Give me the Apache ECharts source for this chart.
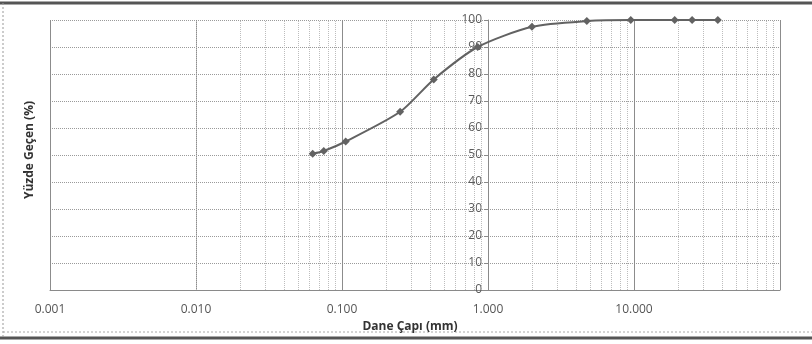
<!DOCTYPE html>
<html>
<head>
<meta charset="utf-8">
<script src="https://cdn.jsdelivr.net/npm/echarts@6/dist/echarts.min.js"></script>
<style>
  html, body { margin: 0; padding: 0; background: #fff; }
  #chart { width: 812px; height: 344px; }
</style>
</head>
<body>
<div id="chart"></div>
<script>
// Sieve openings (mm) and percent passing
const sieveSizes = [0.063, 0.075, 0.106, 0.25, 0.425, 0.85, 2.0, 4.75, 9.5, 19.0, 25.0, 37.5];
const percentPassing = [50.5, 51.5, 55, 66, 78, 90, 97.5, 99.6, 100, 100, 100, 100];

// Axis ranges and tick values
const xMin = 0.001;
const xMax = 100;
const yTicks = [0, 10, 20, 30, 40, 50, 60, 70, 80, 90, 100];

const xTitle = 'Dane Çapı (mm)';
const yTitle = 'Yüzde Geçen (%)';

// Minor log grid positions (2..9 in every decade)
const minorLines = [];
for (let e = -3; e < 2; e++) {
  for (let m = 2; m <= 9; m++) minorLines.push(+(m * Math.pow(10, e)).toPrecision(3));
}

const chart = echarts.init(document.getElementById('chart'), null, { renderer: 'canvas' });

const gridLeft = 50, gridRight = 32, gridTop = 20, gridBottom = 54;
const plotW = 812 - gridLeft - gridRight;
// x position of the 1 mm line inside the grid (where the y axis sits)
const yAxisInset = plotW * (Math.log10(1) - Math.log10(xMin)) / (Math.log10(xMax) - Math.log10(xMin));

chart.setOption({
  animation: false,
  backgroundColor: '#ffffff',
  grid: { left: gridLeft, right: gridRight, top: gridTop, bottom: gridBottom },
  xAxis: {
    type: 'log',
    logBase: 10,
    min: xMin,
    max: xMax,
    name: xTitle,
    nameLocation: 'middle',
    nameGap: 29,
    nameTextStyle: { fontFamily: 'Open Sans', fontWeight: 'bold', fontSize: 12, color: '#333', padding: [0, 0, 0, -10] },
    axisLine: { show: true, lineStyle: { color: '#8a8a8a', width: 1 } },
    axisTick: { show: false },
    axisLabel: {
      margin: 14,
      color: '#555',
      fontFamily: 'Open Sans',
      fontSize: 12,
      formatter: v => (v >= xMax ? '' : Number(v).toFixed(3))
    },
    splitLine: { show: true, lineStyle: { color: '#8c8c8c', width: 1, type: 'solid' } }
  },
  yAxis: {
    type: 'value',
    min: 0,
    max: 100,
    interval: 10,
    position: 'left',
    offset: -yAxisInset,
    axisLine: { show: true, lineStyle: { color: '#8a8a8a', width: 1 } },
    axisTick: { show: true, inside: false, length: 4, lineStyle: { color: '#8a8a8a' } },
    axisLabel: {
      margin: 6,
      color: '#5a5a5a',
      fontFamily: 'Open Sans',
      fontSize: 12,
      customValues: yTicks
    },
    splitLine: { show: true, lineStyle: { color: '#9a9a9a', width: 1, type: 'dotted' } }
  },
  graphic: [
    {
      type: 'text',
      x: 30, y: 150,
      rotation: Math.PI / 2,
      style: {
        text: yTitle,
        font: 'bold 12px "Open Sans"',
        fill: '#333',
        align: 'center',
        verticalAlign: 'middle'
      }
    },
    // frame around the chart
    { type: 'line', shape: { x1: 0, y1: 3, x2: 812, y2: 3 }, style: { stroke: '#555', lineWidth: 3 } },
    { type: 'line', shape: { x1: 0, y1: 338, x2: 812, y2: 338 }, style: { stroke: '#555', lineWidth: 3 } },
    { type: 'line', shape: { x1: 3, y1: 3, x2: 3, y2: 338 }, style: { stroke: '#999', lineWidth: 1, lineDash: [2, 2] } },
    { type: 'line', shape: { x1: 3, y1: 332, x2: 812, y2: 332 }, style: { stroke: '#aaa', lineWidth: 1, lineDash: [2, 2] } }
  ],
  series: [
    {
      type: 'line',
      data: sieveSizes.map((d, i) => [d, percentPassing[i]]),
      smooth: 0.25,
      symbol: 'diamond',
      symbolSize: 8,
      itemStyle: { color: '#626262' },
      lineStyle: { color: '#626262', width: 2 },
      markLine: {
        silent: true,
        symbol: 'none',
        label: { show: false },
        lineStyle: { color: '#bdbdbd', width: 1, type: 'dotted' },
        data: minorLines.map(v => ({ xAxis: v }))
      },
      z: 5
    }
  ]
});
</script>
</body>
</html>
